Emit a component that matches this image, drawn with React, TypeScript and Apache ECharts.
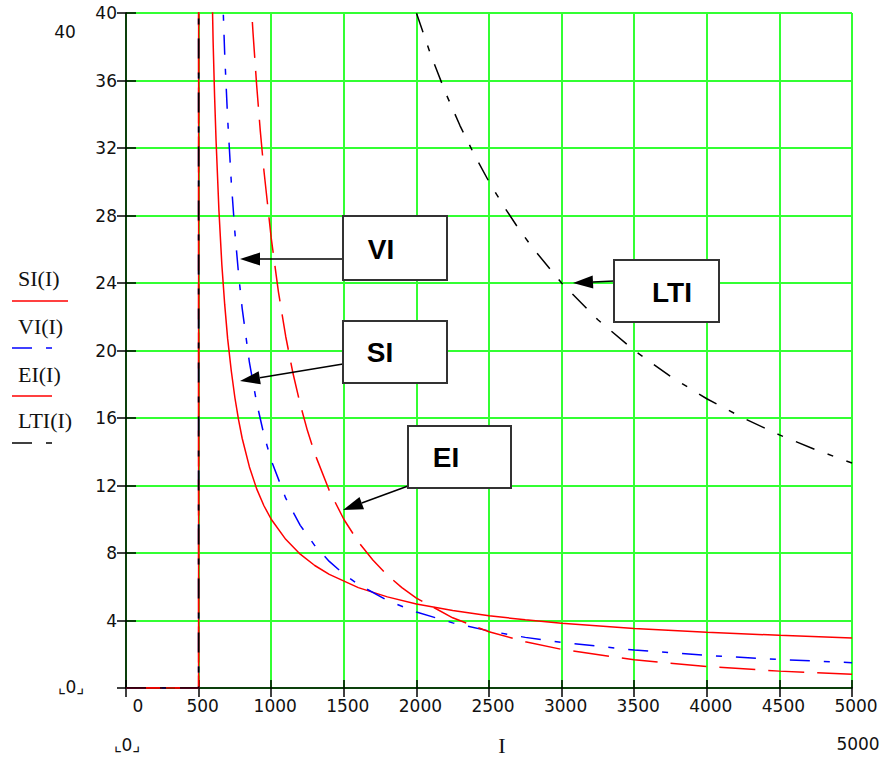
import { useEffect, useRef } from "react";
import * as echarts from "echarts";

// Current I (A) and operating time values
const SI_I = [0, 500, 505, 550, 580, 600, 610, 620, 640, 660, 680, 700, 725, 750, 775, 800, 850, 900, 950, 1000, 1100, 1200, 1300, 1400, 1600, 1800, 2000, 2250, 2500, 2750, 3000, 3500, 4000, 4500, 5000];
const SI_T = [0, 0, 700, 73.4, 47.1, 38.3, 35.1, 32.5, 28.3, 25.1, 22.7, 20.7, 18.8, 17.2, 15.9, 14.8, 13.1, 11.8, 10.8, 10.0, 8.81, 7.93, 7.26, 6.73, 5.95, 5.4, 4.98, 4.59, 4.28, 4.04, 3.84, 3.53, 3.3, 3.12, 2.97];

const VI_I = [0, 500, 505, 600, 650, 680, 700, 725, 750, 775, 800, 850, 900, 950, 1000, 1100, 1200, 1300, 1400, 1500, 1600, 1800, 2000, 2250, 2500, 2750, 3000, 3500, 4000, 4500, 5000];
const VI_T = [0, 0, 1350, 67.5, 45, 37.5, 33.75, 30, 27, 24.55, 22.5, 19.29, 16.9, 15, 13.5, 11.25, 9.64, 8.44, 7.5, 6.75, 6.14, 5.19, 4.5, 3.86, 3.38, 3.0, 2.7, 2.25, 1.93, 1.69, 1.5];

const EI_I = [0, 500, 505, 700, 800, 850, 875, 900, 925, 950, 1000, 1050, 1100, 1150, 1200, 1250, 1300, 1400, 1500, 1600, 1700, 1800, 1900, 2000, 2250, 2500, 2750, 3000, 3500, 4000, 4500, 5000];
const EI_T = [0, 0, 4000, 83.3, 51.3, 42.3, 38.8, 35.7, 33.0, 30.65, 26.67, 23.46, 20.83, 18.65, 16.81, 15.24, 13.89, 11.7, 10.0, 8.66, 7.58, 6.69, 5.95, 5.33, 4.16, 3.33, 2.74, 2.29, 1.67, 1.27, 1.0, 0.81];

const LTI_I = [0, 500, 505, 1500, 1800, 2000, 2100, 2200, 2300, 2400, 2500, 2600, 2700, 2800, 3000, 3250, 3500, 3750, 4000, 4250, 4500, 4750, 5000];
const LTI_T = [0, 0, 12000, 60, 46.15, 40, 37.5, 35.29, 33.33, 31.58, 30, 28.57, 27.27, 26.09, 24, 21.82, 20, 18.46, 17.14, 16, 15, 14.12, 13.33];

const LEGEND_NAMES = ["SI(I)", "VI(I)", "EI(I)", "LTI(I)"];
const CALLOUTS = ["VI", "SI", "EI", "LTI"];

const X_MIN = 0, X_MAX = 5000, X_STEP = 500;
const Y_MIN = 0, Y_MAX = 40, Y_STEP = 4;

const zip = (xs: number[], ys: number[]) => xs.map((x, i) => [x, ys[i]]);

const RED = "#ff0000";
const BLUE = "#0000ff";
const BLACK = "#000000";
const GREEN = "#33ff33";
const TICK_FONT = "DejaVu Sans";
const SERIF = "Liberation Serif";
const TICK_SIZE = 17;

function arrow(fx: number, fy: number, tx: number, ty: number) {
  const dx = tx - fx, dy = ty - fy;
  const len = Math.sqrt(dx * dx + dy * dy);
  const ux = dx / len, uy = dy / len;
  const L = 20, W = 6.5;
  const bx = tx - ux * L, by = ty - uy * L;
  const nx = -uy, ny = ux;
  return [
    { type: "line", z: 100, shape: { x1: fx, y1: fy, x2: bx, y2: by }, style: { stroke: BLACK, lineWidth: 1.5 } },
    {
      type: "polygon", z: 100,
      shape: { points: [[tx, ty], [bx + nx * W, by + ny * W], [bx - nx * W, by - ny * W]] },
      style: { fill: BLACK },
    },
  ];
}

function box(x: number, y: number, w: number, h: number, label: string, cx: number, cy: number) {
  return [
    { type: "rect", z: 100, shape: { x, y, width: w, height: h }, style: { fill: "#fff", stroke: "#333", lineWidth: 2 } },
    {
      type: "text", z: 101, x: cx, y: cy,
      style: { text: label, font: "bold 28px 'Liberation Sans'", fill: "#000", align: "center", verticalAlign: "middle" },
    },
  ];
}

export default function App() {
  const ref = useRef<HTMLDivElement>(null);

  useEffect(() => {
    document.body.style.margin = "0";
    const chart = echarts.init(ref.current!, null, { renderer: "svg" });

    const lineBase = { type: "line", showSymbol: false, clip: true, silent: true, xAxisIndex: 0, yAxisIndex: 0 };

    const legendY = [278, 326, 374, 420];
    const legendGraphics: any[] = [];
    LEGEND_NAMES.forEach((n, i) => {
      legendGraphics.push({
        type: "text", z: 100, x: 18, y: legendY[i],
        style: { text: n, font: `22px '${SERIF}'`, fill: "#111", align: "left", verticalAlign: "middle" },
      });
    });
    legendGraphics.push(
      { type: "line", z: 100, shape: { x1: 12, y1: 301, x2: 68, y2: 301 }, style: { stroke: RED, lineWidth: 1.5 } },
      { type: "line", z: 100, shape: { x1: 12, y1: 348, x2: 32, y2: 348 }, style: { stroke: BLUE, lineWidth: 1.5 } },
      { type: "line", z: 100, shape: { x1: 46, y1: 348, x2: 52, y2: 348 }, style: { stroke: BLUE, lineWidth: 1.5 } },
      { type: "line", z: 100, shape: { x1: 12, y1: 396, x2: 52, y2: 396 }, style: { stroke: RED, lineWidth: 1.5 } },
      { type: "line", z: 100, shape: { x1: 12, y1: 443, x2: 32, y2: 443 }, style: { stroke: BLACK, lineWidth: 1.5 } },
      { type: "line", z: 100, shape: { x1: 46, y1: 443, x2: 52, y2: 443 }, style: { stroke: BLACK, lineWidth: 1.5 } },
    );

    const textStyle = (t: string, x: number, y: number, font: string) => ({
      type: "text", z: 100, x, y,
      style: { text: t, font, fill: "#111", align: "center", verticalAlign: "middle" },
    });

    const graphics: any[] = [
      ...legendGraphics,
      ...arrow(343, 259, 240, 259),
      ...arrow(343, 364, 240, 381),
      ...arrow(408, 486, 343, 510),
      ...arrow(614, 281, 573, 283),
      ...box(343, 216, 104, 64, CALLOUTS[0], 381, 249),
      ...box(343, 321, 104, 62, CALLOUTS[1], 380, 352),
      ...box(408, 426, 103, 62, CALLOUTS[2], 446, 457),
      ...box(614, 260, 105, 62, CALLOUTS[3], 672, 292),
      textStyle(String(Y_MAX), 65, 32, `${TICK_SIZE}px '${TICK_FONT}'`),
      textStyle("\u231E0\u231F", 71, 687, `${TICK_SIZE}px '${TICK_FONT}'`),
      textStyle("\u231E0\u231F", 127, 745, `${TICK_SIZE}px '${TICK_FONT}'`),
      textStyle("I", 502, 745, `22px '${SERIF}'`),
      textStyle(String(X_MAX), 858, 744, `${TICK_SIZE}px '${TICK_FONT}'`),
    ];

    const richBase = { fontFamily: TICK_FONT, fontSize: TICK_SIZE, color: "#111" };

    chart.setOption({
      animation: false,
      backgroundColor: "#ffffff",
      grid: { left: 126, top: 13, width: 726, height: 675, containLabel: false },
      xAxis: [
        {
          type: "value", min: X_MIN, max: X_MAX, interval: X_STEP, position: "bottom",
          axisLine: { show: true, onZero: false, lineStyle: { color: BLACK, width: 1.5 } },
          axisTick: { show: true, inside: false, length: 9, lineStyle: { color: BLACK, width: 1.5 } },
          axisLabel: {
            margin: 9,
            formatter: (v: number) => (v === 0 ? "{z|0}" : `{n|${v}}`),
            rich: { z: { ...richBase, padding: [0, 0, 0, 24] }, n: { ...richBase, padding: [0, 0, 0, 8] } },
          },
          splitLine: { show: true, lineStyle: { color: GREEN, width: 2 } },
        },
        {
          type: "value", min: X_MIN, max: X_MAX, interval: X_STEP, position: "bottom",
          axisLine: { show: false },
          axisTick: { show: true, inside: true, length: 8, lineStyle: { color: BLACK, width: 1.5 } },
          axisLabel: { show: false },
          splitLine: { show: false },
        },
      ],
      yAxis: [
        {
          type: "value", min: Y_MIN, max: Y_MAX, interval: Y_STEP, position: "left",
          axisLine: { show: true, onZero: false, lineStyle: { color: BLACK, width: 1.5 } },
          axisTick: { show: true, inside: false, length: 9, lineStyle: { color: BLACK, width: 1.5 } },
          axisLabel: {
            margin: 9, fontFamily: TICK_FONT, fontSize: TICK_SIZE, color: "#111",
            formatter: (v: number) => (v === 0 ? "" : String(v)),
          },
          splitLine: { show: true, lineStyle: { color: GREEN, width: 2 } },
        },
        {
          type: "value", min: Y_MIN, max: Y_MAX, interval: Y_STEP, position: "left",
          axisLine: { show: false },
          axisTick: { show: true, inside: true, length: 10, lineStyle: { color: BLACK, width: 1.5 } },
          axisLabel: { show: false },
          splitLine: { show: false },
        },
      ],
      series: [
        { ...lineBase, name: "SI(I)", data: zip(SI_I, SI_T), lineStyle: { color: RED, width: 1.5 } },
        { ...lineBase, name: "VI(I)", data: zip(VI_I, VI_T), lineStyle: { color: BLUE, width: 1.5, type: [20, 14, 6, 14] } },
        { ...lineBase, name: "EI(I)", data: zip(EI_I, EI_T), lineStyle: { color: RED, width: 1.5, type: [36, 13] } },
        { ...lineBase, name: "LTI(I)", data: zip(LTI_I, LTI_T), lineStyle: { color: BLACK, width: 1.5, type: [20, 14, 6, 14] } },
      ],
      graphic: graphics,
    });

    return () => chart.dispose();
  }, []);

  return <div ref={ref} style={{ width: 885, height: 757 }} />;
}
